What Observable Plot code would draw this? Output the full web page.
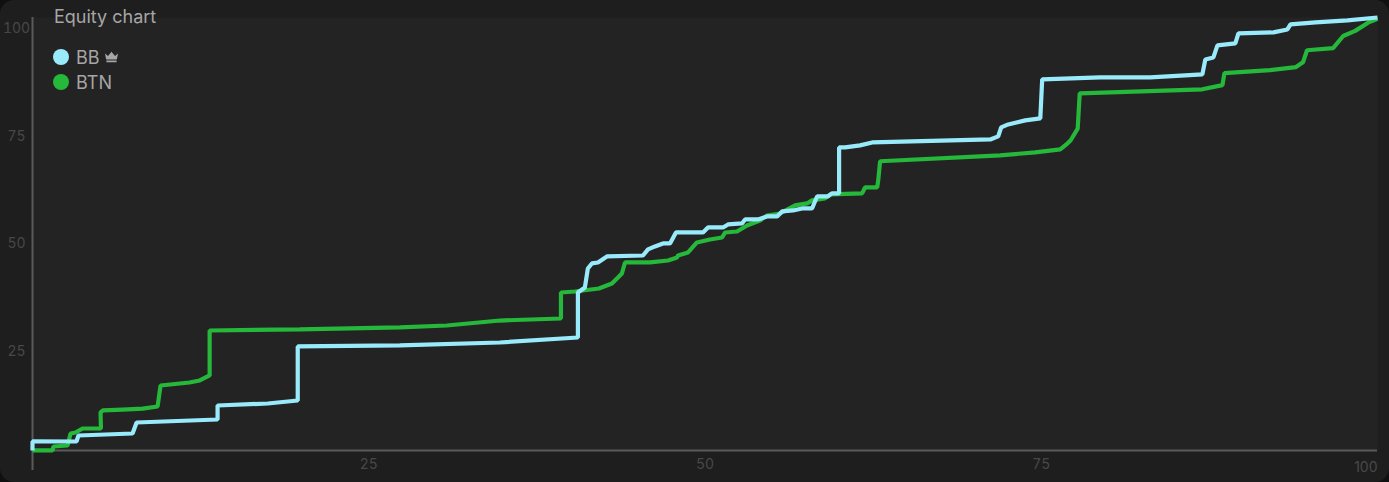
<!DOCTYPE html>
<html>
<head>
<meta charset="utf-8">
<script src="https://cdn.jsdelivr.net/npm/d3@7"></script>
<script src="https://cdn.jsdelivr.net/npm/@observablehq/plot@0.6"></script>
<style>
html,body{margin:0;padding:0;background:#101010;}
#card{position:relative;width:1389px;height:482px;background:#1e1e1e;border-radius:14px;overflow:hidden;font-family:Inter,"Noto Sans",sans-serif;}
#card svg.plot{display:block;position:absolute;left:0;top:0;background:transparent;}
#title{position:absolute;left:54px;top:7px;font-size:18px;line-height:20px;color:#a6a6a6;}
.row{position:absolute;left:53px;height:20px;display:flex;align-items:center;font-size:18px;color:#a6a6a6;}
.dot{width:16px;height:16px;border-radius:50%;margin-right:7px;}
.row svg{margin-left:4px;}
</style>
</head>
<body>
<div id="card"><div id="title">Equity chart</div></div>
<script>
const seriesNames = ["BB", "BTN"];
const seriesColors = ["#99ebfb", "#25b83a"];
const bbX = [0,0,3.27,3.42,7.44,7.74,13.76,13.76,17.49,19.72,19.72,27.31,34.75,40.55,40.55,41.07,41.29,41.59,42.04,42.71,45.39,45.76,46.28,46.88,47.40,47.84,49.85,50.22,51.34,51.71,52.75,52.98,53.94,54.61,55.36,55.73,56.55,57.22,57.96,58.33,59.15,59.44,59.97,59.97,60.42,61.53,62.43,71.21,71.80,72.02,72.54,73.81,74.93,75.07,79.39,83.11,86.98,87.20,87.80,88.10,89.43,89.66,92.26,93.30,93.53,95.39,97.77,100];
const bbY = [1.8,3.9,3.88,5.27,5.73,8.29,8.99,12.24,12.70,13.40,25.94,26.17,26.86,28.02,38.47,39.63,44.04,45.21,45.44,46.83,47.06,48.46,49.16,49.85,49.85,52.40,52.40,53.56,53.56,54.26,54.49,55.42,55.42,56.12,56.12,57.28,57.51,57.98,57.98,60.76,60.76,61.46,61.46,72.14,72.14,72.61,73.30,74.00,74.70,76.78,77.48,78.41,78.87,87.93,88.39,88.39,89.09,92.57,93.03,95.82,96.28,98.61,98.84,99.53,100.70,101.16,101.62,102.3];
const btnX = [0,1.49,1.56,2.61,2.83,3.20,3.72,5.09,5.06,5.24,6.70,8.19,9.30,9.52,11.67,12.43,13.17,13.17,19.87,27.31,30.8,34.75,39.29,39.29,40.33,42.11,43.08,43.53,43.82,44.05,45.91,47.25,47.92,47.99,48.74,49.40,50.37,51.27,51.49,52.38,53.12,54.09,54.61,55.58,56.70,57.59,57.96,58.92,59.30,61.68,61.90,62.80,62.88,63.02,71.95,74.55,76.41,76.96,77.19,77.71,77.86,86.98,88.47,88.62,92.0,93.94,94.46,94.76,96.70,97.45,98.34,99.3,100];
const btnY = [1.8,1.8,2.72,2.95,5.74,5.97,6.9,6.9,10.64,11.1,11.3,11.5,12.0,16.88,17.58,18.04,19.2,29.65,29.9,30.35,30.8,31.96,32.43,38.47,38.7,39.4,40.56,41.95,42.88,45.44,45.44,45.9,46.6,47.06,47.76,50.08,50.78,51.24,52.4,52.63,54.03,55.19,56.35,56.81,58.68,59.14,59.84,60.3,61.23,61.46,62.85,62.85,64.5,68.93,70.3,71.0,71.7,73.1,73.8,76.5,84.7,85.63,86.6,89.4,90.1,90.8,91.9,94.7,95.2,98.0,99.2,101.1,102.0];

const y0 = 1.79, y1 = 102.3;
const bb = bbX.map((x, i) => ({x, y: bbY[i]}));
const btn = btnX.map((x, i) => ({x, y: btnY[i]}));
const lineStyle = {x: "x", y: "y", strokeWidth: 4.2, strokeLinejoin: "miter", strokeLinecap: "butt"};
const labelColor = "#484848";

const chart = Plot.plot({
  width: 1389, height: 482,
  marginTop: 17, marginBottom: 32, marginLeft: 32, marginRight: 12,
  style: {background: "transparent", fontFamily: "Inter, 'Noto Sans', sans-serif", fontSize: "14px"},
  x: {domain: [0, 100]},
  y: {domain: [y0, y1]},
  marks: [
    Plot.frame({fill: "#232323", stroke: null}),
    Plot.ruleY([y0], {stroke: "#5a5a5a", strokeWidth: 2}),
    Plot.ruleX([0], {stroke: "#5a5a5a", strokeWidth: 2, insetBottom: -20}),
    Plot.axisX({ticks: [25, 50, 75], tickSize: 0, tickPadding: 9, color: labelColor, label: null, fontSize: 14}),
    Plot.text([100], {x: d => d, y: y0, text: d => String(d), textAnchor: "end", dy: 17, fill: labelColor, fontSize: 14}),
    Plot.axisY({ticks: [25, 50, 75, 100], tickSize: 0, tickPadding: 0, textAnchor: "middle", dx: -16, dy: 1, color: labelColor, label: null, fontSize: 14}),
    Plot.line(btn, {...lineStyle, stroke: seriesColors[1]}),
    Plot.line(bb, {...lineStyle, stroke: seriesColors[0]})
  ]
});
const card = document.getElementById("card");
card.insertBefore(chart, card.firstChild);

const crown = '<svg width="15" height="12" viewBox="0 0 15 12"><path fill="#a6a6a6" d="M1 2.5l3 2.6L7.5 .8 11 5.1l3-2.6-1.2 6H2.2zM2.4 9.6h10.2v1.6H2.4z"/></svg>';
seriesNames.forEach((name, i) => {
  const row = document.createElement("div");
  row.className = "row";
  row.style.top = (47 + i * 25) + "px";
  row.innerHTML = `<span class="dot" style="background:${seriesColors[i]}"></span>${name}${i === 0 ? crown : ""}`;
  card.appendChild(row);
});
</script>
</body>
</html>
